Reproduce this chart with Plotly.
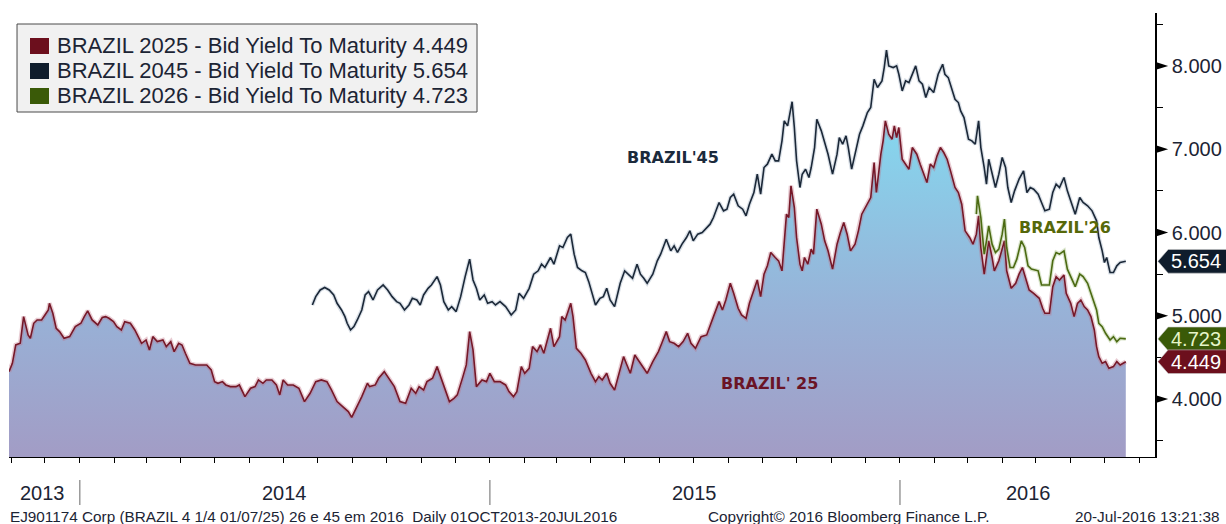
import plotly.graph_objects as go

# ---------------- data ----------------
dates_25 = [
 "2013-10-30","2013-11-02","2013-11-05","2013-11-09","2013-11-12","2013-11-16","2013-11-18","2013-11-21","2013-11-24","2013-11-28",
 "2013-12-01","2013-12-04","2013-12-05","2013-12-08","2013-12-11","2013-12-14","2013-12-18","2013-12-23","2013-12-28",
 "2014-01-02","2014-01-05","2014-01-08","2014-01-12","2014-01-17","2014-01-21","2014-01-24","2014-01-27","2014-01-31",
 "2014-02-03","2014-02-07","2014-02-10","2014-02-15","2014-02-19","2014-02-22","2014-02-25",
 "2014-03-01","2014-03-04","2014-03-07","2014-03-11","2014-03-16","2014-03-19","2014-03-23","2014-03-26","2014-03-30",
 "2014-04-02","2014-04-05","2014-04-09","2014-04-14","2014-04-19","2014-04-24","2014-04-28",
 "2014-05-01","2014-05-04","2014-05-08","2014-05-11","2014-05-15","2014-05-20","2014-05-23","2014-05-28",
 "2014-06-02","2014-06-06","2014-06-09","2014-06-13","2014-06-16","2014-06-21","2014-06-25","2014-06-28",
 "2014-07-01","2014-07-05","2014-07-10","2014-07-15","2014-07-20","2014-07-25","2014-07-30",
 "2014-08-04","2014-08-09","2014-08-13","2014-08-18","2014-08-23","2014-08-28","2014-08-31",
 "2014-09-04","2014-09-09","2014-09-14","2014-09-16","2014-09-21","2014-09-24","2014-09-29",
 "2014-10-03","2014-10-08","2014-10-13","2014-10-18","2014-10-23","2014-10-27","2014-10-30",
 "2014-11-03","2014-11-06","2014-11-11","2014-11-15","2014-11-20","2014-11-26","2014-11-30",
 "2014-12-03","2014-12-08","2014-12-11","2014-12-14","2014-12-17","2014-12-20","2014-12-25","2014-12-29",
 "2015-01-01","2015-01-05","2015-01-10","2015-01-15","2015-01-18","2015-01-22","2015-01-25","2015-01-29",
 "2015-02-01","2015-02-05","2015-02-08","2015-02-12","2015-02-15","2015-02-18","2015-02-24","2015-02-27",
 "2015-03-04","2015-03-06","2015-03-09","2015-03-12","2015-03-14","2015-03-16","2015-03-19","2015-03-23","2015-03-27",
 "2015-04-01","2015-04-05","2015-04-08","2015-04-11","2015-04-15","2015-04-18","2015-04-22","2015-04-27","2015-04-30",
 "2015-05-03","2015-05-06","2015-05-10","2015-05-13","2015-05-16","2015-05-21","2015-05-26","2015-05-31",
 "2015-06-03","2015-06-07","2015-06-10","2015-06-14","2015-06-18","2015-06-22","2015-06-26","2015-06-29",
 "2015-07-03","2015-07-08","2015-07-13","2015-07-16","2015-07-19","2015-07-24","2015-07-27","2015-07-30",
 "2015-08-03","2015-08-06","2015-08-10","2015-08-13","2015-08-17","2015-08-20","2015-08-24","2015-08-27","2015-08-30",
 "2015-09-02","2015-09-05","2015-09-08","2015-09-12","2015-09-15","2015-09-18","2015-09-20","2015-09-22","2015-09-24","2015-09-26","2015-09-29",
 "2015-10-01","2015-10-04","2015-10-06","2015-10-08","2015-10-11","2015-10-14","2015-10-16","2015-10-19","2015-10-23","2015-10-26","2015-10-29",
 "2015-11-02","2015-11-06","2015-11-09","2015-11-12","2015-11-15","2015-11-18","2015-11-22","2015-11-25","2015-11-28",
 "2015-12-02","2015-12-06","2015-12-09","2015-12-11","2015-12-15","2015-12-17","2015-12-19","2015-12-22","2015-12-25","2015-12-27","2015-12-29","2015-12-31",
 "2016-01-03","2016-01-06","2016-01-09","2016-01-12","2016-01-16","2016-01-19","2016-01-22","2016-01-25","2016-01-28","2016-01-31",
 "2016-02-03","2016-02-06","2016-02-09","2016-02-12","2016-02-15","2016-02-19","2016-02-22","2016-02-25","2016-02-28",
 "2016-03-03","2016-03-06","2016-03-09","2016-03-11","2016-03-13","2016-03-16","2016-03-18","2016-03-20","2016-03-23","2016-03-25","2016-03-29",
 "2016-04-01","2016-04-03","2016-04-05","2016-04-09","2016-04-13","2016-04-16","2016-04-19","2016-04-22","2016-04-25","2016-04-29",
 "2016-05-04","2016-05-07","2016-05-09","2016-05-13","2016-05-16","2016-05-19","2016-05-22","2016-05-26","2016-05-28",
 "2016-06-01","2016-06-04","2016-06-07","2016-06-10","2016-06-13","2016-06-16","2016-06-19","2016-06-22","2016-06-24","2016-06-26","2016-06-29",
 "2016-07-02","2016-07-05","2016-07-09","2016-07-12","2016-07-15","2016-07-20",
]
yield_25 = [
 4.33,4.43,4.65,4.67,4.99,4.77,4.73,4.91,4.95,4.95,
 5.01,5.07,5.15,5.03,4.85,4.81,4.73,4.75,4.87,
 4.91,4.99,5.06,4.95,4.89,4.98,4.99,4.97,4.93,
 4.87,4.83,4.93,4.91,4.83,4.75,4.67,
 4.71,4.59,4.75,4.69,4.71,4.63,4.69,4.57,4.67,
 4.65,4.55,4.43,4.41,4.41,4.41,4.35,
 4.21,4.19,4.21,4.17,4.15,4.15,4.17,4.03,
 4.13,4.15,4.23,4.19,4.23,4.23,4.17,4.05,
 4.23,4.17,4.17,4.13,3.97,4.07,4.21,
 4.23,4.21,4.11,3.97,3.91,3.85,3.78,
 3.89,4.03,4.19,4.15,4.17,4.25,4.33,
 4.25,4.15,3.97,3.95,4.13,4.07,4.15,
 4.11,4.21,4.25,4.39,4.19,3.97,4.01,
 4.05,4.27,4.41,4.81,4.59,4.15,4.23,4.21,
 4.31,4.21,4.21,4.17,4.09,4.03,4.09,4.39,
 4.31,4.37,4.63,4.57,4.65,4.55,4.85,4.63,
 4.75,4.99,4.95,5.07,5.15,4.99,4.61,4.55,4.47,
 4.31,4.21,4.27,4.23,4.31,4.19,4.11,4.35,4.51,
 4.41,4.31,4.53,4.47,4.41,4.31,4.45,4.57,
 4.67,4.81,4.69,4.67,4.63,4.69,4.79,4.67,
 4.61,4.75,4.77,4.89,4.99,5.17,5.07,5.19,
 5.39,5.27,5.09,5.01,4.97,5.15,5.31,5.43,5.23,
 5.50,5.60,5.76,5.70,5.66,5.54,5.94,6.22,6.18,6.56,6.30,
 5.94,5.62,5.54,5.70,5.62,5.80,5.74,6.28,6.10,5.90,5.78,
 5.56,5.86,6.00,6.12,5.98,5.78,5.86,6.02,6.22,
 6.32,6.42,6.84,6.48,6.94,7.10,7.34,7.18,7.12,7.28,7.14,7.26,
 6.88,6.82,6.76,7.02,6.94,6.82,6.72,6.60,6.82,6.78,
 6.92,7.02,6.96,6.88,6.74,6.54,6.48,6.34,6.02,
 5.94,5.86,5.98,6.20,5.82,5.50,5.74,5.90,5.70,5.54,5.66,
 5.82,5.90,5.54,5.33,5.39,5.50,5.58,5.43,5.31,5.27,
 5.21,5.09,5.03,5.03,5.35,5.47,5.43,5.49,5.27,
 5.15,4.99,5.15,5.19,5.11,5.07,4.99,4.83,4.63,4.51,4.43,
 4.45,4.37,4.39,4.45,4.41,4.449,
]

dates_45 = [
 "2014-07-27","2014-07-30","2014-08-03","2014-08-07","2014-08-11","2014-08-15","2014-08-18","2014-08-22","2014-08-25","2014-08-27","2014-08-30",
 "2014-09-02","2014-09-05","2014-09-09","2014-09-12","2014-09-15","2014-09-19","2014-09-23","2014-09-28",
 "2014-10-02","2014-10-06","2014-10-10","2014-10-13","2014-10-17","2014-10-21","2014-10-24","2014-10-28","2014-10-31",
 "2014-11-03","2014-11-07","2014-11-10","2014-11-15","2014-11-18","2014-11-21","2014-11-25","2014-11-28",
 "2014-12-02","2014-12-06","2014-12-10","2014-12-14","2014-12-17","2014-12-20","2014-12-23","2014-12-27","2014-12-30",
 "2015-01-03","2015-01-06","2015-01-10","2015-01-15","2015-01-20","2015-01-24","2015-01-27","2015-01-31",
 "2015-02-05","2015-02-09","2015-02-13","2015-02-16","2015-02-19","2015-02-24","2015-02-27",
 "2015-03-04","2015-03-07","2015-03-11","2015-03-14","2015-03-17","2015-03-20","2015-03-24","2015-03-27","2015-03-30",
 "2015-04-02","2015-04-05","2015-04-09","2015-04-12","2015-04-15","2015-04-18","2015-04-22","2015-04-27",
 "2015-05-01","2015-05-04","2015-05-08","2015-05-12","2015-05-15","2015-05-18","2015-05-21","2015-05-26","2015-05-30",
 "2015-06-02","2015-06-07","2015-06-11","2015-06-14","2015-06-17","2015-06-21","2015-06-25","2015-06-28",
 "2015-07-01","2015-07-05","2015-07-09","2015-07-13","2015-07-16","2015-07-19","2015-07-24","2015-07-28","2015-07-31",
 "2015-08-03","2015-08-06","2015-08-10","2015-08-14","2015-08-17","2015-08-20","2015-08-24","2015-08-27","2015-08-30",
 "2015-09-02","2015-09-05","2015-09-09","2015-09-12","2015-09-15","2015-09-18","2015-09-20","2015-09-23","2015-09-25","2015-09-27","2015-09-29",
 "2015-10-01","2015-10-04","2015-10-06","2015-10-09","2015-10-12","2015-10-14","2015-10-17","2015-10-19","2015-10-23","2015-10-26","2015-10-29",
 "2015-11-02","2015-11-06","2015-11-08","2015-11-11","2015-11-14","2015-11-16","2015-11-19","2015-11-23","2015-11-26","2015-11-29",
 "2015-12-03","2015-12-06","2015-12-09","2015-12-12","2015-12-16","2015-12-18","2015-12-20","2015-12-22","2015-12-26","2015-12-29","2015-12-31",
 "2016-01-03","2016-01-06","2016-01-09","2016-01-12","2016-01-15","2016-01-18","2016-01-21","2016-01-24","2016-01-27","2016-01-31",
 "2016-02-04","2016-02-08","2016-02-10","2016-02-13","2016-02-16","2016-02-19","2016-02-22","2016-02-24","2016-02-27",
 "2016-03-02","2016-03-05","2016-03-08","2016-03-11","2016-03-13","2016-03-16","2016-03-18","2016-03-20","2016-03-23","2016-03-26","2016-03-29",
 "2016-04-01","2016-04-04","2016-04-06","2016-04-09","2016-04-12","2016-04-16","2016-04-20","2016-04-23","2016-04-26","2016-04-29",
 "2016-05-03","2016-05-06","2016-05-09","2016-05-13","2016-05-16","2016-05-19","2016-05-22","2016-05-26","2016-05-29",
 "2016-06-02","2016-06-05","2016-06-09","2016-06-12","2016-06-16","2016-06-20","2016-06-24","2016-06-26","2016-06-29",
 "2016-07-01","2016-07-03","2016-07-06","2016-07-09","2016-07-12","2016-07-15","2016-07-20",
]
yield_45 = [
 5.13,5.23,5.31,5.34,5.31,5.25,5.15,5.07,4.99,4.91,4.83,
 4.87,4.95,5.07,5.25,5.29,5.19,5.31,5.37,
 5.31,5.23,5.17,5.15,5.07,5.13,5.21,5.19,5.13,
 5.25,5.33,5.37,5.47,5.37,5.17,5.07,5.11,
 5.05,5.23,5.47,5.68,5.43,5.33,5.19,5.25,5.15,
 5.17,5.13,5.17,5.11,5.01,5.07,5.27,5.21,
 5.33,5.50,5.54,5.62,5.58,5.70,5.62,
 5.84,5.82,5.94,5.98,5.74,5.58,5.54,5.52,5.41,
 5.27,5.13,5.21,5.23,5.33,5.19,5.11,5.39,
 5.54,5.50,5.45,5.62,5.50,5.45,5.39,5.50,5.66,
 5.74,5.92,5.78,5.84,5.76,5.86,5.94,6.02,
 5.90,5.98,6.00,6.06,6.10,6.18,6.36,6.26,6.28,
 6.42,6.46,6.32,6.28,6.20,6.34,6.48,6.70,6.46,
 6.78,6.82,6.94,6.86,6.86,7.10,7.34,7.28,7.44,7.57,7.26,
 6.86,6.54,6.70,6.76,6.66,6.78,7.02,7.36,7.22,7.08,6.94,
 6.70,6.94,7.14,7.06,7.16,7.02,6.76,6.98,7.18,7.28,
 7.44,7.50,7.84,7.74,7.82,7.98,8.19,8.00,7.98,8.00,7.90,
 7.70,7.82,7.80,7.90,8.00,7.82,7.78,7.62,7.74,7.68,
 7.90,8.02,7.90,7.86,7.74,7.60,7.56,7.46,7.38,
 7.12,7.10,7.06,7.34,7.02,6.78,6.58,6.88,6.70,6.54,6.70,
 6.90,6.78,6.54,6.36,6.50,6.64,6.74,6.48,6.54,6.52,
 6.46,6.36,6.26,6.28,6.48,6.58,6.54,6.66,6.50,
 6.34,6.22,6.42,6.36,6.32,6.26,6.14,5.94,5.78,
 5.64,5.70,5.52,5.52,5.60,5.64,5.654,
]

dates_26 = [
 "2016-03-09","2016-03-10","2016-03-13","2016-03-16","2016-03-18","2016-03-20","2016-03-23","2016-03-26","2016-03-29",
 "2016-04-01","2016-04-03","2016-04-05","2016-04-08","2016-04-11","2016-04-14","2016-04-18","2016-04-21","2016-04-24","2016-04-27",
 "2016-05-03","2016-05-06","2016-05-09","2016-05-13","2016-05-16","2016-05-19","2016-05-22","2016-05-26","2016-05-29",
 "2016-06-02","2016-06-05","2016-06-09","2016-06-12","2016-06-16","2016-06-20","2016-06-24","2016-06-26","2016-06-29",
 "2016-07-02","2016-07-06","2016-07-09","2016-07-12","2016-07-15","2016-07-20",
]
yield_26 = [
 6.22,6.44,6.18,5.74,5.90,6.08,5.86,5.76,5.80,
 5.98,6.16,5.82,5.58,5.58,5.68,5.90,5.82,5.60,5.56,
 5.54,5.37,5.37,5.37,5.66,5.76,5.74,5.78,5.56,
 5.43,5.35,5.50,5.47,5.39,5.23,5.07,4.91,4.87,
 4.79,4.71,4.75,4.69,4.73,4.723,
]

series_names = ["BRAZIL 2025", "BRAZIL 2045", "BRAZIL 2026"]
year_labels = ["2013", "2014", "2015", "2016"]
year_label_dates = ["2013-11-29", "2014-07-02", "2015-07-02", "2016-04-24"]
year_starts = ["2014-01-01", "2015-01-01", "2016-01-01"]
y_ticks = [4, 5, 6, 7, 8]

# ---------------- style ----------------
C25 = "#761828"
C45 = "#1b2838"
C26 = "#4b6a12"
BOX25 = "#6c0f1d"
BOX45 = "#0f1c2c"
BOX26 = "#3a5a08"
FONT = "Liberation Sans"
TXT = "#1c2434"
YMIN, YMAX = 3.305, 8.635

fig = go.Figure()

fig.add_trace(go.Scatter(
    x=dates_25, y=yield_25, mode="lines", fill="tozeroy",
    fillgradient=dict(type="vertical",
                      colorscale=[[0, "#a29cc5"], [0.45, "#97b3d8"], [1, "#84d8ef"]],
                      start=YMIN, stop=7.4),
    line=dict(color="rgba(190,110,130,0.35)", width=4.5),
    showlegend=False, hoverinfo="skip"))
fig.add_trace(go.Scatter(x=dates_25, y=yield_25, mode="lines",
                         line=dict(color=C25, width=1.6), showlegend=False))
fig.add_trace(go.Scatter(x=dates_45, y=yield_45, mode="lines",
                         line=dict(color="rgba(150,165,185,0.35)", width=4),
                         showlegend=False, hoverinfo="skip"))
fig.add_trace(go.Scatter(x=dates_45, y=yield_45, mode="lines",
                         line=dict(color=C45, width=1.6), showlegend=False))
fig.add_trace(go.Scatter(x=dates_26, y=yield_26, mode="lines",
                         line=dict(color="rgba(150,180,110,0.35)", width=4),
                         showlegend=False, hoverinfo="skip"))
fig.add_trace(go.Scatter(x=dates_26, y=yield_26, mode="lines",
                         line=dict(color=C26, width=1.6), showlegend=False))

shapes = []
annotations = []

# legend box (drawn by hand for exact row spacing)
shapes.append(dict(type="rect", xref="paper", yref="paper", x0=0.007, x1=0.4084,
                   y0=0.777, y1=0.9752, fillcolor="#f1f1f1",
                   line=dict(color="#4a4a4a", width=1), layer="above"))
legend_rows = [0.9257, 0.8694, 0.8131]
for name, col, ys, yr in [(series_names[0], BOX25, yield_25, legend_rows[0]),
                          (series_names[1], BOX45, yield_45, legend_rows[1]),
                          (series_names[2], BOX26, yield_26, legend_rows[2])]:
    shapes.append(dict(type="rect", xref="paper", yref="paper", x0=0.0183, x1=0.0349,
                       y0=yr - 0.018, y1=yr + 0.018, fillcolor=col,
                       line=dict(width=0), layer="above"))
    annotations.append(dict(xref="paper", yref="paper", x=0.0401, y=yr,
                            text=f"{name} - Bid Yield To Maturity {ys[-1]:.3f}",
                            xanchor="left", yanchor="middle", showarrow=False,
                            font=dict(family=FONT, size=22, color=TXT)))

# y tick triangles
for v in y_ticks:
    shapes.append(dict(type="path", xref="paper", yref="y",
                       path=f"M 1.0,{v-0.05} L 1.0115,{v} L 1.0,{v+0.05} Z",
                       fillcolor="black", line=dict(width=0), layer="above"))

# last value boxes
for ys, col, tcol in [(yield_45, BOX45, "#ffffff"),
                      (yield_26, BOX26, "#e6f5c8"),
                      (yield_25, BOX25, "#ffffff")]:
    v = ys[-1]
    h = 0.142
    shapes.append(dict(type="path", xref="paper", yref="y",
                       path=(f"M 1.0025,{v} L 1.0115,{v+h} L 1.07,{v+h} "
                             f"L 1.07,{v-h} L 1.0115,{v-h} Z"),
                       fillcolor=col, line=dict(color="#c8c8c8", width=0.6), layer="above"))
    annotations.append(dict(xref="paper", yref="y", x=1.0125, y=v, text=f"{v:.3f}",
                            xanchor="left", yanchor="middle", showarrow=False,
                            font=dict(family=FONT, size=20, color=tcol)))

# year separators and labels
for d in year_starts:
    shapes.append(dict(type="line", xref="x", yref="paper", x0=d, x1=d,
                       y0=-0.052, y1=-0.108, line=dict(color="#9a9a9a", width=1.5)))
for lab, d in zip(year_labels, year_label_dates):
    annotations.append(dict(xref="x", yref="paper", x=d, y=-0.081, text=lab,
                            showarrow=False, xanchor="center", yanchor="middle",
                            font=dict(family=FONT, size=20, color=TXT)))

# in-chart series labels
annotations += [
    dict(xref="x", yref="y", x="2015-06-13", y=6.90, text="<b>BRAZIL'45</b>", showarrow=False,
         font=dict(family="DejaVu Sans", size=16, color="#1b2a3c")),
    dict(xref="x", yref="y", x="2015-09-07", y=4.19, text="<b>BRAZIL' 25</b>", showarrow=False,
         font=dict(family="DejaVu Sans", size=16, color="#6a1426")),
    dict(xref="x", yref="y", x="2016-05-27", y=6.06, text="<b>BRAZIL'26</b>", showarrow=False,
         font=dict(family="DejaVu Sans", size=16, color="#56680a")),
]

# footer
foot = dict(family=FONT, size=15.3, color=TXT)
annotations += [
    dict(xref="paper", yref="paper", x=-0.001, y=-0.134, xanchor="left", yanchor="middle",
         showarrow=False, font=foot,
         text="EJ901174 Corp (BRAZIL 4 1/4 01/07/25) 26 e 45 em 2016  Daily 01OCT2013-20JUL2016"),
    dict(xref="paper", yref="paper", x=0.608, y=-0.134, xanchor="left", yanchor="middle",
         showarrow=False, font=foot, text="Copyright© 2016 Bloomberg Finance L.P."),
    dict(xref="paper", yref="paper", x=1.0585, y=-0.134, xanchor="right", yanchor="middle",
         showarrow=False, font=foot, text="20-Jul-2016 13:21:38"),
]

fig.update_layout(
    width=1226, height=524,
    margin=dict(l=9, r=71, t=13, b=67),
    paper_bgcolor="white", plot_bgcolor="white",
    font=dict(family=FONT, color=TXT),
    showlegend=False,
    shapes=shapes, annotations=annotations,
    xaxis=dict(type="date", range=["2013-10-30", "2016-08-15"], automargin=False,
               showgrid=False, zeroline=False, showline=True, linecolor="black", linewidth=1,
               ticks="outside", ticklen=5, tickcolor="black", tickwidth=1,
               tick0="2013-11-01", dtick="M1", showticklabels=False),
    yaxis=dict(side="right", range=[YMIN, YMAX], showgrid=False, zeroline=False, automargin=False,
               showline=True, linecolor="black", linewidth=1.5,
               tickvals=y_ticks, ticktext=[f"{v:.3f}" for v in y_ticks],
               ticks="outside", ticklen=11, tickcolor="rgba(0,0,0,0)",
               tickfont=dict(family=FONT, size=20, color=TXT),
               minor=dict(dtick=0.5, tick0=0, ticks="outside", ticklen=6, tickcolor="black")),
)

fig.write_html("out.html", config={"displayModeBar": False},
               post_script="document.body.style.margin='0';document.body.style.overflow='hidden';")
